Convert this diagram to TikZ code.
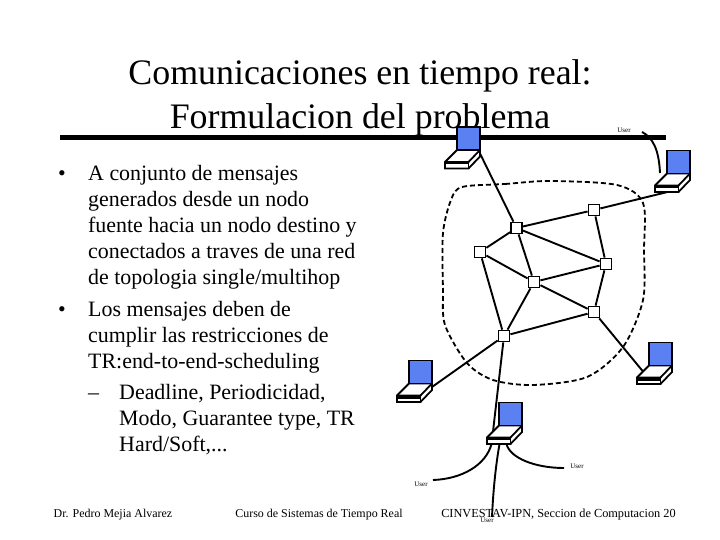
\documentclass[tikz,border=0pt]{standalone}
\usepackage{fontspec}
\setmainfont{Liberation Serif}
\usepackage{xcolor}
\definecolor{screenblue}{HTML}{5B80F2}

\tikzset{
    router/.style={rectangle,draw,fill=white,line width=1.8bp,minimum size=11bp,inner sep=0pt},
    screen/.style={rectangle,draw,fill=screenblue,line width=1.8bp,minimum size=23bp,inner sep=0pt},
    titletext/.style={inner sep=0pt,font=\fontsize{36}{40}\selectfont},
    bodytext/.style={inner sep=0pt,anchor=base west,font=\fontsize{22}{24}\selectfont},
    foottext/.style={inner sep=0pt,anchor=base,font=\fontsize{12}{14}\selectfont},
    usertext/.style={inner sep=0pt,font=\fontsize{7}{8}\selectfont},
    link/.style={line width=1.9bp},
}

% name, centre of the screen, width of the line on the front
\newcommand{\laptop}[3]{
    \begin{scope}[shift={(#2)},line width=1.8bp]
        \draw[fill=white] (-11.5,11.5) -- (11.5,11.5) -- (11.5,18) -- (0,30) -- (-23.5,30) -- (-23.5,23.5) -- cycle;
        \draw (-23.5,23.5) -- (0,23.5) -- (11.5,11.5);
        \draw (0,23.5) -- (0,30);
        \draw[line width=#3] (-23.5,25) -- (0,25);
        \node[screen] (#1) at (0,0) {};
        \coordinate (#1-left) at (-17.5,17.5);
        \coordinate (#1-right) at (11.5,15);
        \coordinate (#1-front) at (-11,30);
        \coordinate (#1-portl) at (-19,30);
        \coordinate (#1-portm) at (-11,30);
        \coordinate (#1-portr) at (-4,30);
    \end{scope}
}

\begin{document}
\begin{tikzpicture}[x=1bp,y=-1bp]
    \useasboundingbox[fill=white] (0,0) rectangle (720,540);

    \node[titletext] (title1) at (360,76) {Comunicaciones en tiempo real:};
    \node[titletext] (title2) at (360,120) {Formulacion del problema};
    \coordinate (rulea) at (60,138);
    \coordinate (ruleb) at (666,138);
    \draw[line width=5bp] (rulea) -- (ruleb);

    \node[bodytext] (b1) at (58,181) {•};
    \node[bodytext] (l1) at (88,181) {A conjunto de mensajes};
    \node[bodytext] (l2) at (88,207) {generados desde un nodo};
    \node[bodytext] (l3) at (88,233) {fuente hacia un nodo destino y};
    \node[bodytext] (l4) at (88,259) {conectados a traves de una red};
    \node[bodytext] (l5) at (88,285) {de topologia single/multihop};
    \node[bodytext] (b2) at (58,316) {•};
    \node[bodytext] (l6) at (88,316) {Los mensajes deben de};
    \node[bodytext] (l7) at (88,342) {cumplir las restricciones de};
    \node[bodytext] (l8) at (88,368) {TR:end-to-end-scheduling};
    \node[bodytext] (b3) at (88,399) {–};
    \node[bodytext] (l9) at (119,399) {Deadline, Periodicidad,};
    \node[bodytext] (l10) at (119,425) {Modo, Guarantee type, TR};
    \node[bodytext] (l11) at (119,451) {Hard/Soft,...};

    \node[foottext] (foot1) at (113,517) {Dr. Pedro Mejia Alvarez};
    \node[foottext] (foot2) at (319,517) {Curso de Sistemas de Tiempo Real};
    \node[foottext,font=\fontsize{12.35}{14}\selectfont] (foot3) at (558.5,517) {CINVESTAV-IPN, Seccion de Computacion 20};

    % network
    \node[router] (a) at (516.5,228) {};
    \node[router] (b) at (594,210) {};
    \node[router] (c) at (480,252) {};
    \node[router] (d) at (606,264) {};
    \node[router] (e) at (534,282) {};
    \node[router] (f) at (594,312) {};
    \node[router] (g) at (504,336) {};

    \draw[link] (a)--(b);
    \draw[link] (a)--(c);
    \draw[link] (a)--(d);
    \draw[link] (a)--(e);
    \draw[link] (b)--(d);
    \draw[link] (c)--(e);
    \draw[link] (c)--(g);
    \draw[link] (d)--(e);
    \draw[link] (d)--(f);
    \draw[link] (e)--(f);
    \draw[link] (e)--(g);
    \draw[link] (f)--(g);

    \draw[line width=1.8bp,dash pattern=on 5bp off 3bp] plot[smooth cycle,tension=0.5] coordinates {
        (462,187) (505,184) (550,181) (617,185) (643,203) (644,250) (643,300)
        (623,347) (587,377) (533,385) (493,380) (467,363) (445,325) (443,290) (443,233) (451,200)};

    \laptop{ltop}{468.5,138.5}{1.8bp}
    \laptop{lright}{678.5,162}{3bp}
    \laptop{lleft}{420.5,372}{3bp}
    \laptop{llow}{660.5,354}{3bp}
    \laptop{lbot}{510.5,414}{1.8bp}

    \draw[link] (ltop-right) -- (a);
    \draw[link] (lright-front) -- (b);
    \draw[link] (lleft-right) -- (g);
    \draw[link] (llow-left) -- (f);
    \draw[link] (lbot-left) -- (g);

    \node[usertext] (user1) at (624,130) {User};
    \node[usertext] (user2) at (577,466) {User};
    \node[usertext] (user3) at (421,484) {User};
    \node[usertext] (user4) at (487,520) {User};
    \coordinate (end1) at (642,132);
    \coordinate (end2) at (564,468);
    \coordinate (end3) at (433,480);
    \coordinate (end4) at (492,517);
    \coordinate (lrightport) at (660,173);

    \draw[link] (lrightport) .. controls (659,152) and (654,138) .. (end1);
    \draw[link] (lbot-portr) .. controls (510,458) and (535,468) .. (end2);
    \draw[link] (lbot-portl) .. controls (486,465) and (462,479) .. (end3);
    \draw[link] (lbot-portm) .. controls (495,470) and (493,495) .. (end4);
\end{tikzpicture}
\end{document}
